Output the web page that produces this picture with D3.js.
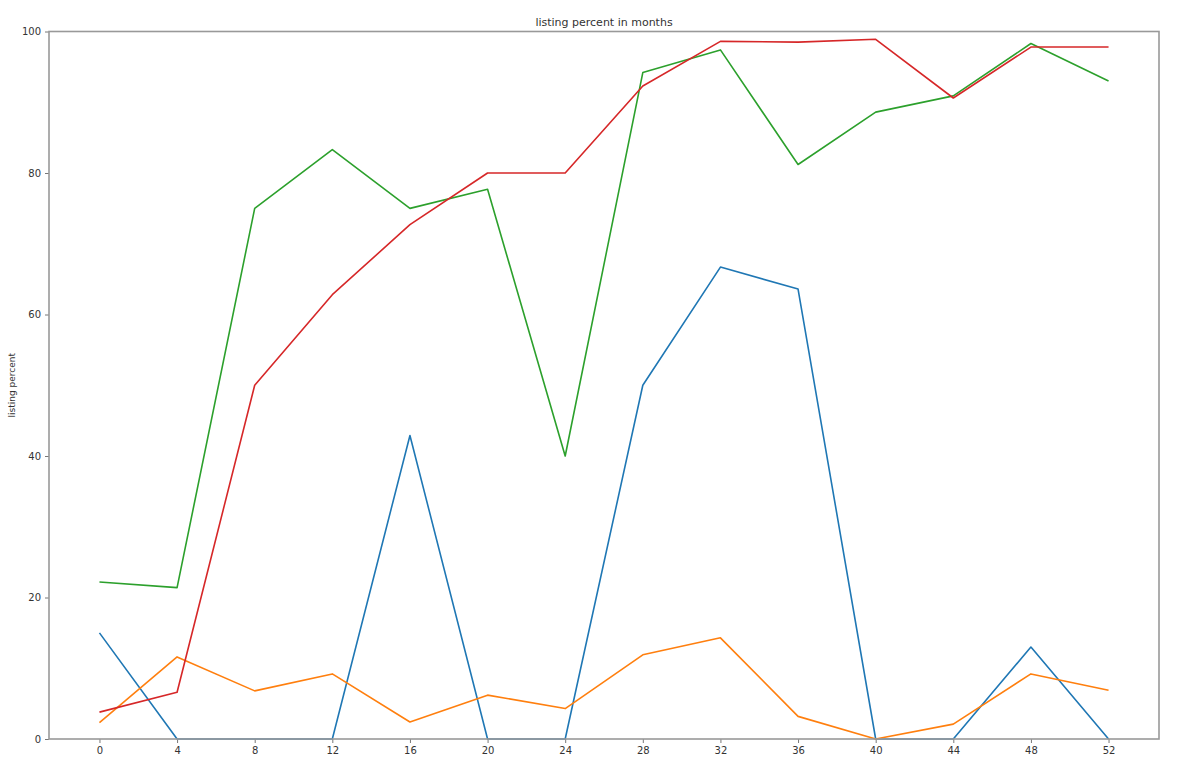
<!DOCTYPE html>
<html>
<head>
<meta charset="utf-8">
<script src="https://cdn.jsdelivr.net/npm/d3@7"></script>
<style>
  body { margin: 0; background: #fff; }
  text { font-family: "DejaVu Sans", sans-serif; fill: #333; }
</style>
</head>
<body>
<div id="chart"></div>
<script>
// data
var months = [0, 4, 8, 12, 16, 20, 24, 28, 32, 36, 40, 44, 48, 52];
var blueSeries   = [15.0, 0, 0, 0, 42.9, 0, 0, 50.0, 66.7, 63.6, 0, 0, 13.0, 0];
var orangeSeries = [2.3, 11.6, 6.8, 9.2, 2.4, 6.2, 4.3, 11.9, 14.3, 3.2, 0, 2.1, 9.2, 6.9];
var greenSeries  = [22.2, 21.4, 75.0, 83.3, 75.0, 77.7, 40.0, 94.2, 97.4, 81.2, 88.6, 90.9, 98.3, 93.0];
var redSeries    = [3.8, 6.6, 50.0, 62.8, 72.7, 80.0, 80.0, 92.3, 98.6, 98.5, 98.9, 90.6, 97.8, 97.8];
var yTicks = [0, 20, 40, 60, 80, 100];

var series = [
  {values: blueSeries, color: '#1f77b4'},
  {values: orangeSeries, color: '#ff7f0e'},
  {values: greenSeries, color: '#2ca02c'},
  {values: redSeries, color: '#d62728'}
];

var width = 1196, height = 779;
var margin = {top: 31.5, right: 37, bottom: 40, left: 49};

var svg = d3.select('#chart').append('svg')
  .attr('width', width)
  .attr('height', height);

var x = d3.scaleLinear()
  .domain([-2.6, 54.6])
  .range([margin.left, width - margin.right]);

var y = d3.scaleLinear()
  .domain([0, 100])
  .range([height - margin.bottom, margin.top]);

var line = d3.line()
  .x(function(d, i){ return x(months[i]); })
  .y(function(d){ return y(d); });

svg.selectAll('.series')
  .data(series)
  .enter()
  .append('path')
  .attr('class', 'series')
  .attr('d', function(d){ return line(d.values); })
  .attr('fill', 'none')
  .attr('stroke', function(d){ return d.color; })
  .attr('stroke-width', 1.6)
  .attr('stroke-linejoin', 'round');

// axes
var xAxis = svg.append('g')
  .attr('transform', 'translate(0,' + y(0) + ')')
  .call(d3.axisBottom(x).tickValues(months).tickSize(4).tickPadding(4));

var yAxis = svg.append('g')
  .attr('transform', 'translate(' + margin.left + ',0)')
  .call(d3.axisLeft(y).tickValues(yTicks).tickSize(4).tickPadding(4));

[xAxis, yAxis].forEach(function(g){
  g.select('.domain').remove();
  g.selectAll('line').attr('stroke', '#777');
  g.selectAll('text').style('font-size', '10px').style('fill', '#333');
});

// frame
svg.append('rect')
  .attr('x', x.range()[0])
  .attr('y', y.range()[1])
  .attr('width', x.range()[1] - x.range()[0])
  .attr('height', y.range()[0] - y.range()[1])
  .attr('fill', 'none')
  .attr('stroke', '#999')
  .attr('stroke-width', 1.6);

svg.append('text')
  .attr('x', (x.range()[0] + x.range()[1]) / 2)
  .attr('y', 26)
  .attr('text-anchor', 'middle')
  .style('font-size', '11px')
  .text('listing percent in months');

svg.append('text')
  .attr('transform', 'translate(15,' + ((y.range()[0] + y.range()[1]) / 2) + ') rotate(-90)')
  .attr('text-anchor', 'middle')
  .style('font-size', '9px')
  .text('listing percent');
</script>
</body>
</html>
